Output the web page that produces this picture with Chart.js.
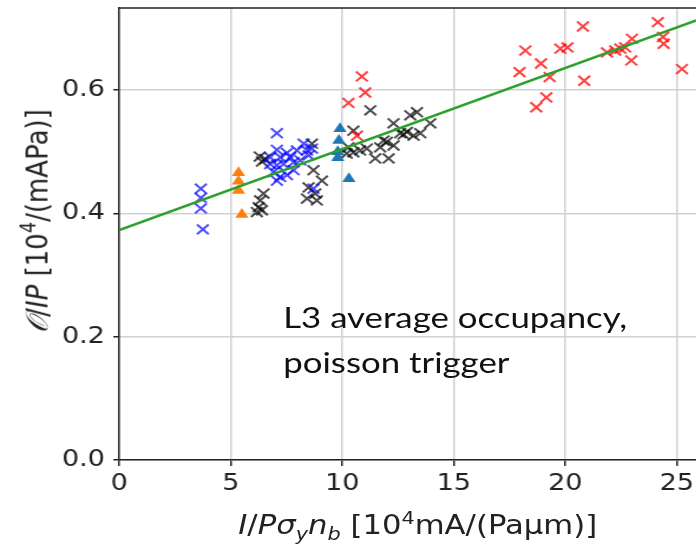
<!DOCTYPE html>
<html>
<head>
<meta charset="utf-8">
<script src="https://cdn.jsdelivr.net/npm/chart.js@4.4.0/dist/chart.umd.min.js"></script>
<style>
  html, body { margin: 0; padding: 0; background: #fff; overflow: hidden; }
  /* the reference is a slightly widened picture, so everything is drawn at 590px and stretched to 696px */
  #wrap { position: relative; width: 590px; height: 544px; transform: scaleX(1.18); transform-origin: 0 0; }
  #chart { position: absolute; left: 0; top: 0; width: 590px; height: 544px; }
  .lbl { position: absolute; font-family: 'DejaVu Sans', sans-serif; font-size: 26px; color: #222; white-space: nowrap; line-height: 1; }
  .lbl sub, .lbl sup { font-size: 68%; line-height: 0; }
  #xlabel { left: 354px; top: 525px; transform: translate(-50%, -50%); }
  #ylabel { left: 31px; top: 221px; transform: translate(-50%, -50%) rotate(-90deg); }
  #note { position: absolute; left: 240px; top: 294px; font-family: Lato, sans-serif; font-size: 29.5px; line-height: 45px; color: #111; white-space: nowrap; }
</style>
</head>
<body>
<div id="wrap">
  <canvas id="chart" width="590" height="544"></canvas>
  <div class="lbl" id="xlabel"><i>I</i>/<i>Pσ<sub>y</sub>n<sub>b</sub></i> [10<sup>4</sup>mA/(Paμm)]</div>
  <div class="lbl" id="ylabel"><i>𝒪</i>/<i>IP</i> [10<sup>4</sup>/(mAPa)]</div>
  <div id="note">L3 average occupancy,<br>poisson trigger</div>
</div>
<script>
// x ticks / y ticks
const xTicks = [0, 5, 10, 15, 20, 25];
const yTicks = [0.0, 0.2, 0.4, 0.6];

// red crosses
const redX = [10.88, 11.03, 10.28, 10.66, 20.79, 24.15, 18.21, 19.78, 20.1, 22.99, 22.69, 21.87,
              22.24, 22.47, 24.38, 24.41, 22.96, 18.91, 17.95, 19.3, 20.85, 25.23, 19.15, 18.7];
const redY = [0.622, 0.596, 0.579, 0.526, 0.703, 0.710, 0.664, 0.667, 0.669, 0.683, 0.669, 0.661,
              0.664, 0.667, 0.686, 0.675, 0.648, 0.643, 0.629, 0.621, 0.615, 0.634, 0.588, 0.572];

// blue crosses
const blueX = [3.66, 3.66, 3.66, 3.75, 7.07, 7.07, 6.77, 7.22, 7.52, 7.67, 7.97, 8.27, 8.42,
               8.64, 6.77, 7.07, 7.37, 7.82, 8.12, 8.49, 6.92, 7.22, 7.52, 7.82, 7.07, 8.71];
const blueY = [0.44, 0.425, 0.408, 0.374, 0.530, 0.503, 0.491, 0.491, 0.498, 0.491, 0.502, 0.513, 0.502,
               0.505, 0.480, 0.478, 0.480, 0.483, 0.486, 0.494, 0.467, 0.459, 0.462, 0.470, 0.453, 0.440];

// black crosses
const blackX = [6.3, 6.4, 6.55, 6.47, 6.32, 6.25, 6.4, 6.17, 8.64, 8.71, 9.09, 8.49, 8.79, 8.42, 8.86,
                10.5, 11.26, 13.05, 13.35, 12.3, 13.95, 12.6, 12.75, 12.9, 13.2, 13.5, 12.0, 11.7,
                11.48, 12.08, 11.1, 10.8, 10.5, 10.2, 10.28, 11.85, 12.3];
const blackY = [0.492, 0.484, 0.488, 0.432, 0.421, 0.410, 0.405, 0.402, 0.513, 0.470, 0.453, 0.442, 0.432, 0.424, 0.421,
                0.534, 0.567, 0.559, 0.564, 0.546, 0.546, 0.530, 0.528, 0.532, 0.526, 0.530, 0.516, 0.507,
                0.489, 0.489, 0.505, 0.502, 0.499, 0.497, 0.507, 0.518, 0.510];

// triangles
const orangeTriX = [5.35, 5.35, 5.35, 5.5];
const orangeTriY = [0.466, 0.452, 0.437, 0.398];
const blueTriX = [9.9, 9.85, 9.8, 9.8, 10.3];
const blueTriY = [0.537, 0.518, 0.50, 0.49, 0.456];

// fit line end points
const fitX = [0, 25.87];
const fitY = [0.373, 0.713];

const pts = (xs, ys) => xs.map((x, i) => ({ x: x, y: ys[i] }));

const cross = (data, color, order) => ({
    type: 'scatter', data: data, order: order,
    pointStyle: 'crossRot', pointRadius: 7, pointBorderWidth: 2,
    borderColor: color, backgroundColor: color
});
const tri = (data, color) => ({
    type: 'scatter', data: data, order: 2,
    pointStyle: 'triangle', pointRadius: 6.5, pointBorderWidth: 0,
    borderColor: color, backgroundColor: color
});

// top spine (the right one is cropped off in the reference)
const topSpine = {
    id: 'topSpine',
    afterDraw(chart) {
        const { ctx, chartArea } = chart;
        ctx.save();
        ctx.strokeStyle = '#222';
        ctx.lineWidth = 1.5;
        ctx.beginPath();
        ctx.moveTo(chartArea.left, chartArea.top);
        ctx.lineTo(chartArea.right, chartArea.top);
        ctx.stroke();
        ctx.restore();
    }
};

const noPad = s => { s.paddingLeft = 0; s.paddingRight = 0; s.paddingTop = 0; s.paddingBottom = 0; };

new Chart(document.getElementById('chart'), {
    data: {
        datasets: [
            {
                type: 'line', data: pts(fitX, fitY), order: 0,
                borderColor: '#2ca02c', borderWidth: 2.5, pointRadius: 0, fill: false
            },
            tri(pts(orangeTriX, orangeTriY), '#ff7f0e'),
            tri(pts(blueTriX, blueTriY), '#1f77b4'),
            cross(pts(redX, redY), 'rgba(255,0,0,0.75)', 3),
            cross(pts(blueX, blueY), 'rgba(0,0,255,0.7)', 4),
            cross(pts(blackX, blackY), 'rgba(0,0,0,0.7)', 5)
        ]
    },
    options: {
        responsive: false,
        animation: false,
        devicePixelRatio: 1,
        layout: { autoPadding: false, padding: { top: 8, right: 0, left: 0, bottom: 0 } },
        plugins: { legend: { display: false }, tooltip: { enabled: false } },
        scales: {
            x: {
                type: 'linear', min: 0, max: 25.87,
                afterFit: s => { s.height = 84; noPad(s); },
                afterBuildTicks: s => { s.ticks = xTicks.map(v => ({ value: v })); },
                ticks: { font: { family: 'DejaVu Sans', size: 23 }, color: '#222', padding: 4, maxRotation: 0 },
                grid: { color: '#d2d2d2', lineWidth: 1.5, tickColor: '#222', tickLength: 6, tickWidth: 1.5 },
                border: { color: '#222', width: 1.5 }
            },
            y: {
                type: 'linear', min: 0, max: 0.733,
                afterFit: s => { s.width = 101; noPad(s); },
                afterBuildTicks: s => { s.ticks = yTicks.map(v => ({ value: v })); },
                ticks: { font: { family: 'DejaVu Sans', size: 23 }, color: '#222', padding: 7,
                         callback: v => v.toFixed(1) },
                grid: { color: '#d2d2d2', lineWidth: 1.5, tickColor: '#222', tickLength: 5, tickWidth: 1.5 },
                border: { color: '#222', width: 1.5 }
            }
        }
    },
    plugins: [topSpine]
});
</script>
</body>
</html>
